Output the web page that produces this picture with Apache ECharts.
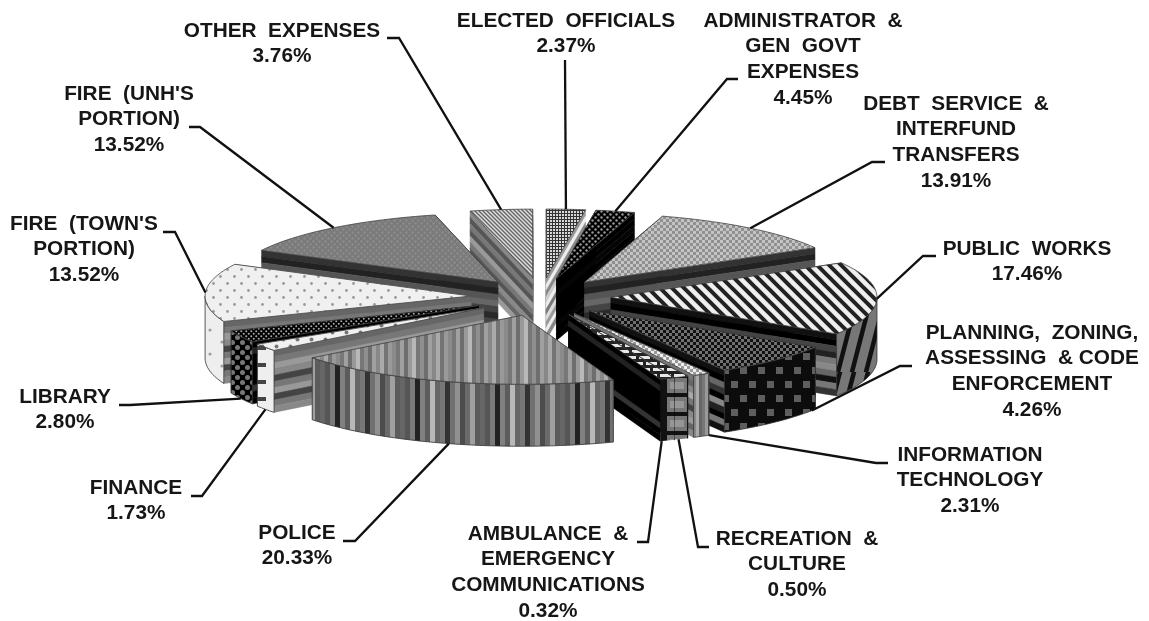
<!DOCTYPE html>
<html>
<head>
<meta charset="utf-8">
<style>
  html, body { margin: 0; padding: 0; background: #fff; }
  #main { width: 1149px; height: 621px; }
</style>
<script src="https://cdn.jsdelivr.net/npm/echarts@6/dist/echarts.min.js"></script>
</head>
<body>
<div id="main"></div>
<script>
// data, clockwise from 12 o'clock
const categories = [
  'ELECTED  OFFICIALS',
  'ADMINISTRATOR  &\nGEN  GOVT\nEXPENSES',
  'DEBT  SERVICE  &\nINTERFUND\nTRANSFERS',
  'PUBLIC  WORKS',
  'PLANNING,  ZONING,\nASSESSING  & CODE\nENFORCEMENT',
  'INFORMATION\nTECHNOLOGY',
  'RECREATION  &\nCULTURE',
  'AMBULANCE  &\nEMERGENCY\nCOMMUNICATIONS',
  'POLICE',
  'FINANCE',
  'LIBRARY',
  "FIRE  (TOWN'S\nPORTION)",
  "FIRE  (UNH'S\nPORTION)",
  'OTHER  EXPENSES'
];
const values = [2.37, 4.45, 13.91, 17.46, 4.26, 2.31, 0.50, 0.32, 20.33, 1.73, 2.80, 13.52, 13.52, 3.76];

// label layout: centre x, y of first line, and leader elbow
const labelX = [566, 803, 956, 1027, 1032, 970, 797, 548, 297, 136, 65, 84, 129, 282];
const labelY = [21, 21, 104, 249, 333, 455, 539, 534, 533, 488, 397, 224, 94, 31];
const elbows = [
  [[565, 60]],
  [[738, 79], [727, 79]],
  [[885, 162], [872, 162]],
  [[936, 256], [923, 256]],
  [[912, 366], [900, 366]],
  [[888, 463], [876, 463]],
  [[709, 547], [698, 547]],
  [[637, 542], [648, 542]],
  [[343, 541], [355, 541]],
  [[191, 496], [202, 496]],
  [[119, 405], [130, 405]],
  [[163, 232], [175, 232]],
  [[189, 127], [200, 127]],
  [[387, 38], [399, 38]]
];
// where along the rim the leader lands
const leaderFrac = [0.5, 0.5, 0.5, 0.5, 0.05, 0, 0.7, 0.9, 0.5, 0.5, 0.5, 0.5, 0.5, 0.5];
// recreation and ambulance are pulled out together, they read as one block
const explodeWith = { 6: 7, 7: 6 };

// 3d look: ellipse, explode distance, wall height
const CX = 541, CY = 297, RX = 266, RY = 69, EX = 70, EY = 19, WALL = 62;
// the source's tilted view bends the angles a little: [pie angle, screen angle]
const viewAngles = [[0, 0], [8.4, 8.5], [24.2, 17], [73.7, 60], [135.8, 122], [151, 149.7], [159.2, 153.4],
  [161, 156.7], [162, 159.8], [234.4, 232], [360, 360]];

function tile(w, h, draw) {
  const c = document.createElement('canvas');
  c.width = w; c.height = h;
  draw(c.getContext('2d'));
  return { image: c, repeat: 'repeat' };
}
function dots(bg, fg, step, r) {
  return tile(step, step, g => {
    g.fillStyle = bg; g.fillRect(0, 0, step, step);
    g.fillStyle = fg;
    g.beginPath(); g.arc(step / 4, step / 4, r, 0, 7); g.fill();
    g.beginPath(); g.arc(step * 3 / 4, step * 3 / 4, r, 0, 7); g.fill();
  });
}
function checks(a, b, s) {
  return tile(s * 2, s * 2, g => {
    g.fillStyle = a; g.fillRect(0, 0, s * 2, s * 2);
    g.fillStyle = b; g.fillRect(0, 0, s, s); g.fillRect(s, s, s, s);
  });
}
function grid(bg, fg, s) {
  return tile(s, s, g => {
    g.fillStyle = bg; g.fillRect(0, 0, s, s);
    g.fillStyle = fg; g.fillRect(0, 0, s, 1); g.fillRect(0, 0, 1, s);
  });
}
// stripes running dx across per h down, lines overshoot the tile so the joins stay clean
function slant(a, b, w, h, dx, lw) {
  return tile(w, h, g => {
    g.fillStyle = a; g.fillRect(0, 0, w, h);
    g.strokeStyle = b; g.lineWidth = lw;
    for (let i = -3 * w; i <= 3 * w; i += w) {
      g.beginPath(); g.moveTo(i - dx, -h); g.lineTo(i + 2 * dx, 2 * h); g.stroke();
    }
  });
}
function vstripes(cols, w) {
  return tile(cols.length * w, 4, g => {
    cols.forEach((c, i) => { g.fillStyle = c; g.fillRect(i * w, 0, w, 4); });
  });
}
function bricks(bg, fg, w, h) {
  return tile(w, h * 2, g => {
    g.fillStyle = bg; g.fillRect(0, 0, w, h * 2);
    g.fillStyle = fg;
    g.fillRect(2, 2, w - 3, h - 3);
    g.fillRect(-w / 2 + 2, h + 2, w - 3, h - 3);
    g.fillRect(w / 2 + 2, h + 2, w - 3, h - 3);
  });
}
// big grey blocks on black, one column wide over the two thin front slices
const blockWall = tile(27, 19, g => {
  g.fillStyle = '#111'; g.fillRect(0, 0, 27, 19);
  [19, -8].forEach(x => {
    [17, -2].forEach(y => {
      g.fillStyle = '#777'; g.fillRect(x, y, 20, 15);
      g.fillStyle = '#969696'; g.fillRect(x + 3, y + 4, 14, 7);
    });
  });
});
const stripesTop = ['#8a8a8a', '#777', '#a0a0a0', '#6e6e6e', '#999', '#b8b8b8', '#777', '#8f8f8f', '#6e6e6e', '#a0a0a0', '#888', '#aaa', '#747474', '#999'];
const stripesWall = ['#666', '#555', '#7a7a7a', '#222', '#808080', '#5c5c5c', '#b8b8b8', '#666', '#777', '#333', '#707070', '#909090', '#4c4c4c', '#6a6a6a', '#a0a0a0', '#5c5c5c'];
const darkBands = ['#333', '#222', '#555', '#666', '#444', '#2a2a2a', '#444', '#666', '#555', '#333'];
const greyBands = ['#777', '#666', '#888', '#aaa', '#777', '#444', '#888', '#999', '#666', '#888'];
const midBands = ['#666', '#777', '#999', '#888', '#444', '#777', '#999', '#444', '#777', '#888'];
const blackBands = ['#000', '#222', '#000', '#000', '#000', '#000', '#000', '#333', '#000', '#000'];
const brickTop = bricks('#222', '#e8e8e8', 14, 6);
const faces = [
  { top: grid('#d8d8d8', '#333', 3), wall: grid('#d8d8d8', '#333', 3), bands: ['#999', '#eee', '#888', '#ccc', '#eee', '#777', '#ddd', '#999', '#eee', '#888'] },
  { top: dots('#000', '#999', 6, 1.2), wall: dots('#000', '#888', 8, 1.5), bands: ['#000', '#000', '#050505', '#000', '#000', '#000', '#000', '#050505', '#000', '#000'] },
  { top: checks('#909090', '#c4c4c4', 3), wall: checks('#555', '#999', 6), bands: darkBands },
  { top: slant('#efefef', '#222', 12, 12, 12, 4), wall: slant('#777', '#111', 14, 62, -16, 4.5), bands: ['#111', '#000', '#444', '#222', '#777', '#888', '#666', '#111', '#777', '#333'] },
  { top: checks('#111', '#707070', 3), wall: tile(18, 28, g => { g.fillStyle = '#0c0c0c'; g.fillRect(0, 0, 18, 28); g.fillStyle = '#5e5e5e'; g.fillRect(2, 3, 7, 7); g.fillRect(11, 17, 7, 7); }), bands: ['#111', '#000', '#666', '#333', '#000', '#888', '#222', '#000', '#777', '#111'] },
  { top: checks('#999', '#eee', 3), wall: vstripes(['#777', '#999', '#555', '#888', '#aaa', '#666'], 3), bands: greyBands },
  { top: brickTop, wall: blockWall, bands: blackBands, seamless: true },
  { top: brickTop, wall: blockWall, bands: blackBands, seamless: true },
  { top: vstripes(stripesTop, 4), wall: vstripes(stripesWall, 5), bands: greyBands },
  { top: dots('#f0f0f0', '#777', 14, 2), wall: tile(18, 17, g => { g.fillStyle = '#eee'; g.fillRect(0, 0, 18, 17); g.fillStyle = '#444'; g.fillRect(4, 6, 10, 4); }), bands: midBands },
  { top: dots('#000', '#aaa', 5, 1), wall: dots('#000', '#777', 10, 2.5), bands: blackBands },
  { top: dots('#f0f0f0', '#9a9a9a', 14, 1.4), wall: dots('#eee', '#a0a0a0', 24, 1.6), bands: midBands },
  { top: dots('#7a7a7a', '#8c8c8c', 6, 1.3), wall: dots('#555', '#777', 8, 2), bands: darkBands },
  { top: slant('#e0e0e0', '#666', 4, 4, 4, 1.4), wall: slant('#aaa', '#555', 8, 8, 8, 3), bands: ['#888', '#555', '#777', '#555', '#999', '#777', '#555', '#888', '#666', '#999'] }
];

const total = values.reduce((s, v) => s + v, 0);
function toScreen(a) {
  for (let i = 1; i < viewAngles.length; i++) {
    const p = viewAngles[i - 1], q = viewAngles[i];
    if (a <= q[0]) return p[1] + (a - p[0]) * (q[1] - p[1]) / (q[0] - p[0]);
  }
  return a;
}
// start and end of every slice, then its apex
let acc = 0;
const slices = values.map(v => {
  const a0 = toScreen(acc / total * 360);
  acc += v;
  return { a0, a1: toScreen(acc / total * 360) };
});
slices.forEach((s, i) => {
  const o = slices[explodeWith[i] === undefined ? i : explodeWith[i]];
  const mid = (Math.min(s.a0, o.a0) + Math.max(s.a1, o.a1)) / 2 * Math.PI / 180;
  s.ax = CX + EX * Math.sin(mid);
  s.ay = CY - EY * Math.cos(mid);
  s.cosMid = Math.cos((s.a0 + s.a1) / 2 * Math.PI / 180);
});
function rim(s, deg) {
  const r = deg * Math.PI / 180;
  return [s.ax + RX * Math.sin(r), s.ay - RY * Math.cos(r)];
}
function arc(s, from, to) {
  const pts = [];
  const n = Math.max(2, Math.ceil((to - from) / 2));
  for (let i = 0; i <= n; i++) pts.push(rim(s, from + (to - from) * i / n));
  return pts;
}
const poly = (points, style) => ({ type: 'polygon', shape: { points }, style });

function radialWall(s, deg, bands) {
  const p = rim(s, deg), n = bands.length;
  return bands.map((c, i) => poly([
    [s.ax, s.ay + WALL * i / n], [p[0], p[1] + WALL * i / n],
    [p[0], p[1] + WALL * (i + 1) / n], [s.ax, s.ay + WALL * (i + 1) / n]
  ], { fill: c, stroke: c, lineWidth: 0.5 }));
}
// back slices first
const order = values.map((v, i) => i).sort((a, b) => slices[b].cosMid - slices[a].cosMid);

function renderSlice(params) {
  const s = slices[order[params.dataIndex]];
  const f = faces[order[params.dataIndex]];
  let children = [];
  // radial walls, further one first
  const ends = [s.a0, s.a1].sort((a, b) => rim(s, a)[1] - rim(s, b)[1]);
  ends.forEach(a => { children = children.concat(radialWall(s, a, f.bands)); });
  // outer wall, only the part that faces us
  const from = Math.max(s.a0, 90), to = Math.min(s.a1, 270);
  if (to > from) {
    const t = arc(s, from, to);
    const b = t.map(p => [p[0], p[1] + WALL]).reverse();
    children.push(poly(t.concat(b), f.seamless ? { fill: f.wall } : { fill: f.wall, stroke: '#333', lineWidth: 0.8 }));
  }
  // top face
  children.push(poly([[s.ax, s.ay]].concat(arc(s, s.a0, s.a1)), { fill: f.top, stroke: '#444', lineWidth: 0.8 }));
  return { type: 'group', children };
}

function renderLabel(params) {
  const i = params.dataIndex, s = slices[i];
  const deg = s.a0 + (s.a1 - s.a0) * leaderFrac[i];
  let end = rim(s, deg);
  if (Math.cos(deg * Math.PI / 180) < -0.1) end = [end[0], end[1] + WALL];
  const lines = categories[i].split('\n').concat(values[i].toFixed(2) + '%');
  const children = lines.map((t, k) => ({
    type: 'text',
    style: {
      text: t, x: labelX[i], y: labelY[i] + k * 25.6,
      font: 'bold 20.8px "Liberation Sans", Arial, sans-serif',
      fill: '#161616', align: 'center', verticalAlign: 'middle'
    }
  }));
  children.push({
    type: 'polyline',
    shape: { points: elbows[i].concat([end]) },
    style: { stroke: '#111', lineWidth: 2.3, fill: null }
  });
  return { type: 'group', children };
}

const myChart = echarts.init(document.getElementById('main'));
myChart.setOption({
  backgroundColor: '#fff',
  animation: false,
  series: [
    { type: 'custom', coordinateSystem: 'none', silent: true, z: 2, data: order.map(i => values[i]), renderItem: renderSlice },
    { type: 'custom', coordinateSystem: 'none', silent: true, z: 3, data: values, renderItem: renderLabel }
  ]
});
</script>
</body>
</html>
